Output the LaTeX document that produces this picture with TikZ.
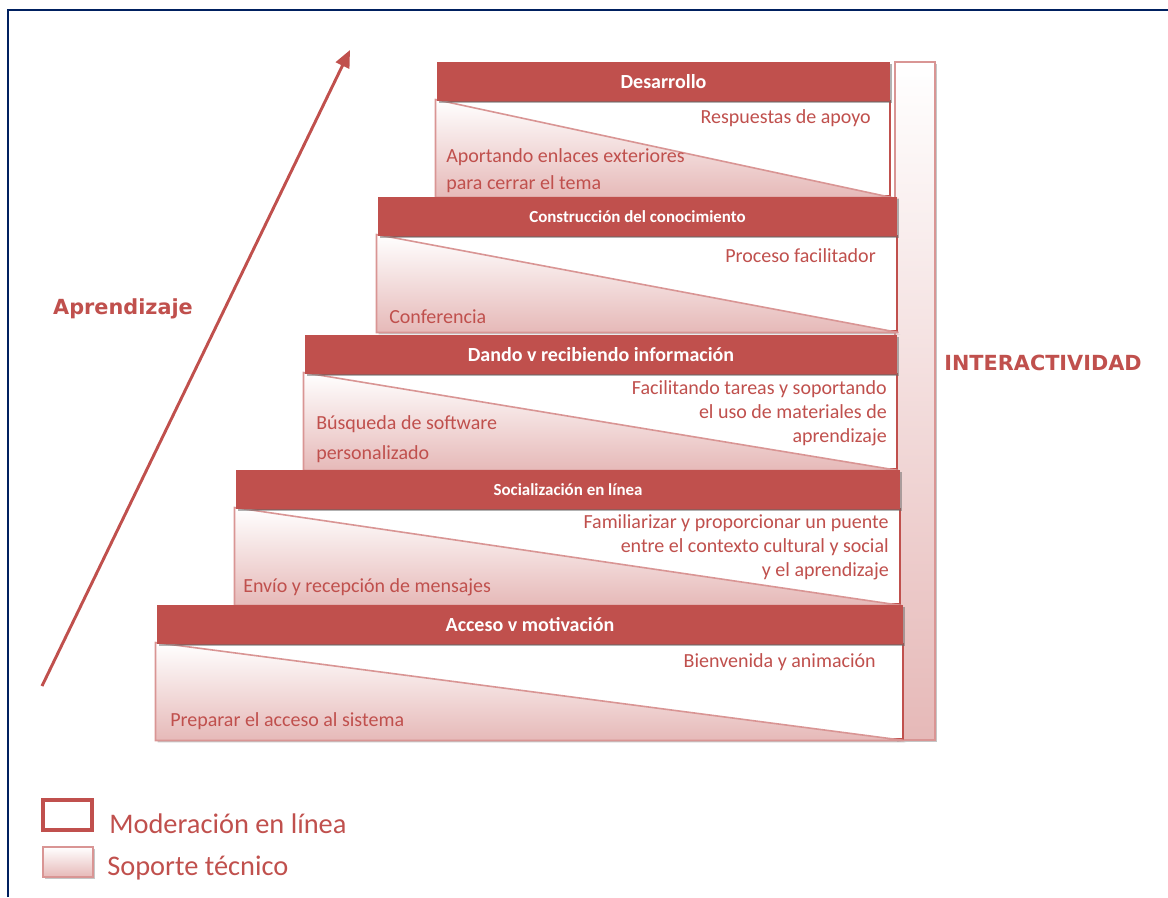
\documentclass[tikz,border=0pt]{standalone}
\usepackage{fontspec}
\setmainfont{Carlito}
\newfontfamily\anchafont{DejaVu Sans}
\usepackage{tikz}
\usetikzlibrary{shadows}
\usetikzlibrary{positioning}
\usetikzlibrary{arrows.meta,shapes}
\usetikzlibrary{calc,fit}
\definecolor{rojo}{RGB}{192,80,77}
\definecolor{rosa}{RGB}{230,185,184}
\definecolor{rosaborde}{RGB}{217,149,148}
\definecolor{azulmarco}{RGB}{0,32,96}
\tikzstyle{cabecera}=[draw=none,fill=rojo,inner sep=0pt,drop shadow={shadow xshift=1.5pt,shadow yshift=-1.5pt,fill=black!60,opacity=0.5}]
\tikzstyle{moderacion}=[draw=rojo,line width=2.2pt,fill=white,inner sep=0pt]
\tikzstyle{soporte}=[draw=rosaborde,line width=1.2pt,top color=white,bottom color=rosa,drop shadow={shadow xshift=1.5pt,shadow yshift=-1.5pt,fill=black!50,opacity=0.45}]
\tikzstyle{titulo}=[text=white,font=\bfseries\fontsize{15}{17}\selectfont]
\tikzstyle{titulochico}=[text=white,font=\bfseries\fontsize{12.7}{15}\selectfont]
\tikzstyle{texto}=[text=rojo,font=\fontsize{15}{18}\selectfont,inner sep=0pt]
\tikzstyle{etiqueta}=[text=rojo,font=\anchafont\bfseries\fontsize{15.6}{18}\selectfont]
\tikzstyle{leyenda}=[text=rojo,font=\fontsize{21.3}{24}\selectfont,inner sep=0pt]
\tikzstyle{flecha}=[draw=rojo,line width=2.2pt,-{Triangle[length=13pt,width=11pt]}]

\begin{document}
\begin{tikzpicture}[x=0.75pt,y=-0.75pt]
    \useasboundingbox (0,0) rectangle (1168,897);
    % marco
    \draw[azulmarco,line width=2pt] (8,897) -- (8,10) -- (1168,10);

    % barra de interactividad, first so the steps go over it
    \node[soporte,inner sep=0pt,fit={(895,62) (935,740)}] (inter) {};
    \node[etiqueta] (tinter) at (1043,363) {INTERACTIVIDAD};

    % the five steps: box, triangle, header
    \foreach \i/\xl/\xr/\yt in {1/437/890/62, 2/378/897/197, 3/305/897/335, 4/236/900/470, 5/157/903/605}
    {
        \node[moderacion,fit={(\xl,\yt+39) (\xr,\yt+134)}] (b\i) {};
        \path[soporte] (b\i.north west) -- (b\i.south west) -- (b\i.south east) -- cycle;
        \node[cabecera,fit={(\xl,\yt) (\xr,\yt+39)}] (h\i) {};
    }

    \node[titulo] at (h1) {Desarrollo};
    \node[titulochico] at (h2) {Construcción del conocimiento};
    \node[titulo] at (h3) {Dando v recibiendo información};
    \node[titulochico] at (h4) {Socialización en línea};
    \node[titulo] at (h5) {Acceso v motivación};

    % texts of the steps (base = last line)
    \node[texto,anchor=base east] (m1) at (871,123) {Respuestas de apoyo};
    \node[texto,anchor=base west,align=left,font=\fontsize{15}{20}\selectfont] (s1) at (446,189) {Aportando enlaces exteriores\\para cerrar el tema};
    \node[texto,anchor=base east] (m2) at (876,262) {Proceso facilitador};
    \node[texto,anchor=base west] (s2) at (389,323) {Conferencia};
    \node[texto,anchor=base east,align=right] (m3) at (887,442) {Facilitando tareas y soportando\\el uso de materiales de\\aprendizaje};
    \node[texto,anchor=base west,align=left,font=\fontsize{15}{22.5}\selectfont] (s3) at (316,459) {Búsqueda de software\\personalizado};
    \node[texto,anchor=base east,align=right] (m4) at (889,576) {Familiarizar y proporcionar un puente\\entre el contexto cultural y social\\y el aprendizaje};
    \node[texto,anchor=base west] (s4) at (243,592) {Envío y recepción de mensajes};
    \node[texto,anchor=base east] (m5) at (876,667) {Bienvenida y animación};
    \node[texto,anchor=base west] (s5) at (170,726) {Preparar el acceso al sistema};

    % learning arrow
    \coordinate (inicio) at (42,686);
    \coordinate (punta) at (350,50);
    \draw[flecha] (inicio) -- (punta);
    \node[etiqueta] (apr) at (123,309) {Aprendizaje};

    % legend
    \node[moderacion,line width=3pt,fit={(43,800) (92,830)}] (leymod) {};
    \node[soporte,inner sep=0pt,fit={(43,847) (93,877)}] (leysop) {};
    \node[leyenda,anchor=base west] (tmod) at (109,833) {Moderación en línea};
    \node[leyenda,anchor=base west] (tsop) at (107,875) {Soporte técnico};
\end{tikzpicture}
\end{document}
